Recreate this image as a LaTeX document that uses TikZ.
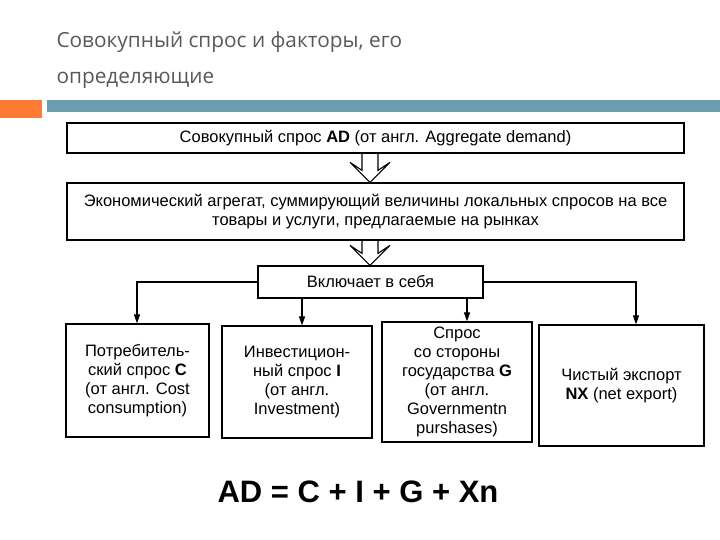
\documentclass[tikz,border=0pt]{standalone}
\usepackage{fontspec}
\setmainfont{Liberation Sans}
\newfontfamily\titlefont{Open Sans}
\usetikzlibrary{arrows.meta}
\begin{document}
\begin{tikzpicture}[x=1pt,y=-1pt,
  bx/.style={draw,line width=1.2pt,align=center,inner sep=1pt,font=\fontsize{16.5}{19}\selectfont},
  arr/.style={line width=1.1pt,-{Triangle[length=9pt,width=6pt]}},
  ln/.style={line width=1.1pt}]
\useasboundingbox (0,0) rectangle (720,540);
\node[anchor=west,text=black!65,font=\titlefont\fontsize{20.8}{36}\selectfont,align=left] (title) at (53,60) {Совокупный спрос и факторы, его\\определяющие};
\fill[orange!70!red!80!white] (0,100) rectangle (42,118);
\fill[blue!25!cyan!30!gray!90] (47,100) rectangle (720,112);
\node[bx,minimum width=617pt,minimum height=30pt] (b1) at (375.5,138) {Совокупный спрос \textbf{AD} (от англ. Aggregate demand)};
\node[bx,minimum width=617pt,minimum height=57pt] (b2) at (375.5,211.5) {Экономический агрегат, суммирующий величины локальных спросов на все\\товары и услуги, предлагаемые на рынках};
\node[bx,minimum width=225pt,minimum height=32pt] (b3) at (370.5,282) {Включает в себя};
\node[bx,minimum width=143pt,minimum height=113pt] (c1) at (137.5,380.5) {Потребитель-\\ский спрос \textbf{C}\\(от англ. Cost\\consumption)};
\node[bx,minimum width=150pt,minimum height=112pt] (c2) at (297,382) {Инвестицион-\\ный спрос \textbf{I}\\(от англ.\\Investment)};
\node[bx,minimum width=150pt,minimum height=120pt] (c3) at (457,382) {Спрос\\со стороны\\государства \textbf{G}\\(от англ.\\Governmentn\\purshases)};
\node[bx,minimum width=165pt,minimum height=121pt] (c4) at (621.5,385.5) {Чистый экспорт\\\textbf{NX} (net export)};
\node[font=\bfseries\fontsize{31}{36}\selectfont] (f) at (358,492) {AD = C + I + G + Xn};
% hollow arrows
\coordinate (h1t) at (b1.south -| 370,0); \coordinate (h1b) at (b2.north -| 370,0);
\coordinate (h2t) at (b2.south -| 370,0); \coordinate (h2b) at (b3.north -| 370,0);
\foreach \t/\bt in {h1t/h1b,h2t/h2b}{
  \draw[line width=1.1pt] ([xshift=-8pt]\t) -- ([xshift=-8pt,yshift=12pt]\bt) -- ([xshift=-20pt,yshift=20pt]\bt) -- (\bt) -- ([xshift=20pt,yshift=20pt]\bt) -- ([xshift=8pt,yshift=12pt]\bt) -- ([xshift=8pt]\t);
}
\draw[ln] (b3.west) -| (137,300);
\draw[arr] (137,299) -- (c1.north -| 137,0);
\draw[arr] (b3.south -| 302,0) -- (c2.north -| 302,0);
\draw[arr] (b3.south -| 467,0) -- (c3.north -| 467,0);
\draw[ln] (b3.east) -| (636,300);
\draw[arr] (636,299) -- (c4.north -| 636,0);
\end{tikzpicture}
\end{document}
